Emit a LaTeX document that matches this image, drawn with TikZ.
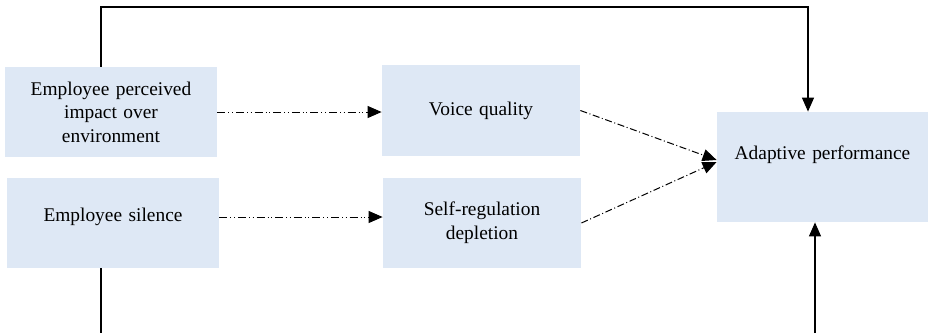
\documentclass[tikz,border=0pt]{standalone}
\usepackage{fontspec}
\setmainfont{Liberation Serif}
\usepackage{xcolor}
\usetikzlibrary{arrows.meta, positioning}
\definecolor{boxblue}{RGB}{222,232,245}

\begin{document}
\begin{tikzpicture}[x=0.5pt,y=-0.5pt,
  box/.style={fill=boxblue, inner sep=2pt, align=center, font=\fontsize{9.7}{11.8}\selectfont},
  dashdotdot/.style={dash pattern=on 4pt off 1.5pt on 0.5pt off 1.3pt on 0.5pt off 1.5pt, line width=0.5pt},
  dashdot/.style={dash pattern=on 3.5pt off 1.3pt on 0.5pt off 1.3pt, line width=0.5pt},
  arr/.style={-{Triangle[length=7pt,width=6pt]}, line width=0.6pt}]
\useasboundingbox (0,0) rectangle (928,333);
\node[box, minimum width=106pt, minimum height=45pt, text width=100pt] (impact) at (111,112) {Employee perceived\\impact over\\environment};
\node[box, minimum width=106pt, minimum height=45pt, text width=100pt, text depth=8.5pt] (silence) at (113,223) {Employee silence};
\node[box, minimum width=99pt, minimum height=45.5pt, text width=94pt] (voice) at (481,110.5) {Voice quality};
\node[box, minimum width=99pt, minimum height=45pt, text width=94pt] (depletion) at (482,223) {Self-regulation\\depletion};
\node[box, minimum width=105.5pt, minimum height=55pt, text width=100pt, text depth=14pt] (adaptive) at (822.5,167) {Adaptive performance};
\coordinate (top) at (0,7);
\coordinate (bottom) at (0,333);
\draw[arr, dashdotdot] (impact.east) -- (impact.east -| voice.west);
\draw[arr, dashdotdot] ([yshift=3pt]silence.east) -- ([yshift=3pt]silence.east -| depletion.west);
\draw[arr, dashdot] (voice.east) -- ([yshift=3.5pt]adaptive.west);
\draw[arr, dashdot] (depletion.east) -- ([yshift=2.5pt]adaptive.west);
\draw[arr] ([xshift=-5pt]impact.north) |- ([xshift=-7.25pt]adaptive.north |- top) -- ([xshift=-7.25pt]adaptive.north);
\draw[line width=0.6pt] ([xshift=-6pt]silence.south) -- ([xshift=-6pt]silence.south |- bottom);
\draw[arr] ([xshift=-3.75pt]adaptive.south |- bottom) -- ([xshift=-3.75pt]adaptive.south);
\end{tikzpicture}
\end{document}
